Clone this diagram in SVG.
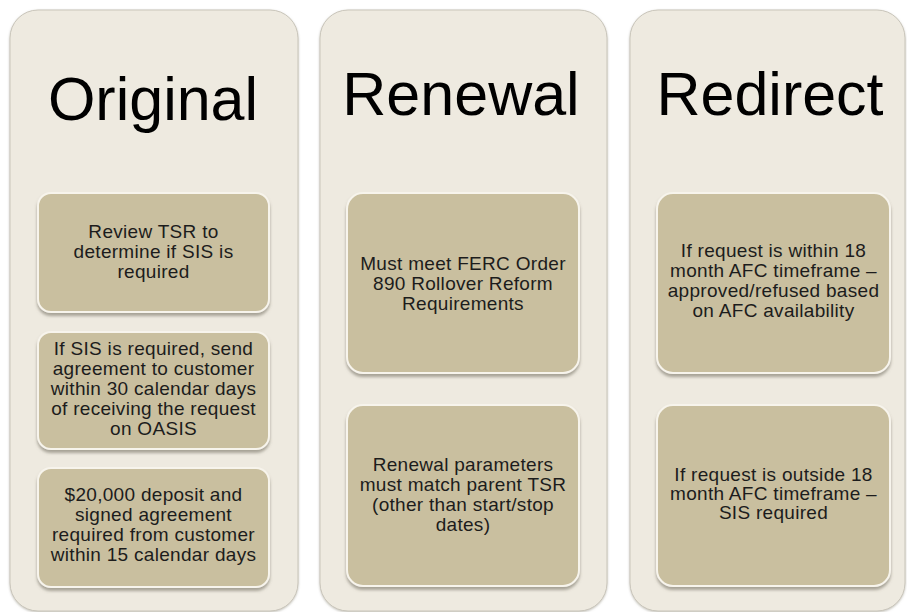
<svg xmlns="http://www.w3.org/2000/svg" width="907" height="612" viewBox="0 0 907 612">
<defs>
<filter id="sh" x="-10%" y="-10%" width="120%" height="125%">
<feDropShadow dx="0" dy="3" stdDeviation="1.5" flood-color="#6e6a5c" flood-opacity="0.55"/>
</filter>
<filter id="psh" x="-5%" y="-5%" width="110%" height="110%">
<feDropShadow dx="0" dy="1" stdDeviation="1" flood-color="#8a8678" flood-opacity="0.5"/>
</filter>
</defs>
<style>
.panel{fill:#EEEAE0;stroke:#C9C5BA;stroke-width:1;filter:url(#psh)}
.box{fill:#C9BF9F;stroke:#F7F4EC;stroke-width:2;filter:url(#sh)}
.title{font-family:"Liberation Sans",Arial,sans-serif;font-size:61px;fill:#000;text-anchor:middle}
.body{font-family:"Liberation Sans",Arial,sans-serif;font-size:19px;letter-spacing:0.3px;fill:#1c1c1c;text-anchor:middle}
</style>
<rect width="907" height="612" fill="#ffffff"/>
<g id="original">
<rect class="panel" x="10" y="10" width="288" height="601" rx="28"/>
<text class="title" x="153" y="120">Original</text>
<g id="orig-1">
<rect class="box" x="38" y="193" width="231" height="119" rx="13"/>
<text class="body" x="153.5"><tspan x="153.5" y="238">Review TSR to</tspan><tspan x="153.5" y="258">determine if SIS is</tspan><tspan x="153.5" y="278">required</tspan></text>
</g>
<g id="orig-2">
<rect class="box" x="38" y="332" width="231" height="117" rx="13"/>
<text class="body" x="153.5"><tspan x="153.5" y="355">If SIS is required, send</tspan><tspan x="153.5" y="375">agreement to customer</tspan><tspan x="153.5" y="395">within 30 calendar days</tspan><tspan x="153.5" y="415">of receiving the request</tspan><tspan x="153.5" y="435">on OASIS</tspan></text>
</g>
<g id="orig-3">
<rect class="box" x="38" y="468" width="231" height="119" rx="13"/>
<text class="body" x="153.5"><tspan x="153.5" y="501">$20,000 deposit and</tspan><tspan x="153.5" y="521">signed agreement</tspan><tspan x="153.5" y="541">required from customer</tspan><tspan x="153.5" y="561">within 15 calendar days</tspan></text>
</g>
</g>
<g id="renewal">
<rect class="panel" x="320" y="10" width="287" height="601" rx="28"/>
<text class="title" x="461" y="115">Renewal</text>
<g id="ren-1">
<rect class="box" x="347" y="193" width="232" height="180" rx="16"/>
<text class="body" x="463"><tspan x="463" y="270">Must meet FERC Order</tspan><tspan x="463" y="290">890 Rollover Reform</tspan><tspan x="463" y="310">Requirements</tspan></text>
</g>
<g id="ren-2">
<rect class="box" x="347" y="405" width="232" height="181" rx="16"/>
<text class="body" x="463"><tspan x="463" y="471">Renewal parameters</tspan><tspan x="463" y="491">must match parent TSR</tspan><tspan x="463" y="511">(other than start/stop</tspan><tspan x="463" y="531">dates)</tspan></text>
</g>
</g>
<g id="redirect">
<rect class="panel" x="630" y="10" width="275" height="601" rx="28"/>
<text class="title" x="770" y="115">Redirect</text>
<g id="red-1">
<rect class="box" x="657" y="193" width="233" height="180" rx="16"/>
<text class="body" x="773.5"><tspan x="773.5" y="257">If request is within 18</tspan><tspan x="773.5" y="277">month AFC timeframe –</tspan><tspan x="773.5" y="297">approved/refused  based</tspan><tspan x="773.5" y="317">on AFC availability</tspan></text>
</g>
<g id="red-2">
<rect class="box" x="657" y="405" width="233" height="181" rx="16"/>
<text class="body" x="773.5"><tspan x="773.5" y="481">If request is outside 18</tspan><tspan x="773.5" y="500">month AFC timeframe –</tspan><tspan x="773.5" y="519">SIS required</tspan></text>
</g>
</g>
<g id="connectors"/>
</svg>
